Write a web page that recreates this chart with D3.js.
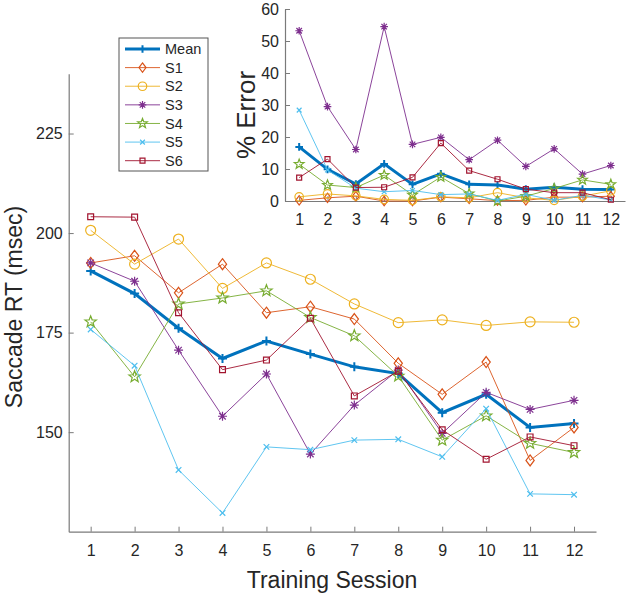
<!DOCTYPE html>
<html>
<head>
<meta charset="utf-8">
<script src="https://cdn.jsdelivr.net/npm/d3@7"></script>
<style>
  body { margin: 0; background: #fff; }
  svg { display: block; font-family: "Liberation Sans", Arial, sans-serif; }
</style>
</head>
<body>
<svg id="chart" width="626" height="599"></svg>
<script>
// Data
const sessions = [1, 2, 3, 4, 5, 6, 7, 8, 9, 10, 11, 12];
const seriesNames = ["Mean", "S1", "S2", "S3", "S4", "S5", "S6"];

// Saccade RT (msec)
const rtMean = [190.5, 184.8, 176.1, 168.5, 172.9, 169.6, 166.4, 164.7, 154.9, 159.5, 151.2, 152.2];
const rtS1 = [192.5, 194.3, 185.0, 192.2, 180.0, 181.5, 178.4, 167.3, 159.5, 167.6, 142.9, 151.2];
const rtS2 = [200.7, 192.2, 198.5, 186.1, 192.5, 188.4, 182.2, 177.5, 178.2, 176.8, 177.7, 177.6];
const rtS3 = [192.5, 187.9, 170.6, 154.0, 164.6, 144.5, 156.8, 165.6, 149.7, 160.0, 155.7, 158.0];
const rtS4 = [177.7, 163.9, 182.2, 183.7, 185.5, 178.8, 174.2, 164.1, 148.0, 154.1, 147.2, 144.9];
const rtS5 = [175.8, 166.7, 140.5, 129.7, 146.3, 145.6, 148.0, 148.2, 143.8, 155.9, 134.5, 134.3];
const rtS6 = [204.1, 204.0, 180.0, 165.7, 168.1, 178.6, 159.1, 165.3, 150.6, 143.2, 148.8, 146.6];

// % Error
const errMean = [16.9, 9.9, 5.3, 11.6, 5.2, 8.5, 5.2, 5.0, 3.7, 4.3, 3.7, 3.6];
const errS1 = [0.2, 1.0, 1.5, 0, 0, 1.2, 0.7, 0.1, 0.2, 1.2, 1.2, 1.5];
const errS2 = [1.3, 2.2, 1.6, 0.5, 0.2, 1.3, 1.0, 2.6, 1.0, 0.2, 1.5, 3.2];
const errS3 = [53.2, 29.5, 16.1, 54.5, 17.7, 19.9, 12.9, 19.0, 10.8, 16.3, 8.4, 11.1];
const errS4 = [11.5, 5.0, 4.2, 8.1, 1.9, 7.5, 2.3, 0, 1.5, 3.9, 6.6, 5.2];
const errS5 = [28.4, 9.7, 4.0, 2.9, 3.3, 2.0, 2.2, 0.2, 2.1, 0.2, 1.8, 0.3];
const errS6 = [7.3, 13.1, 4.2, 4.3, 7.4, 18.1, 9.5, 6.8, 3.7, 2.6, 2.6, 0.4];

const rtTicks = [150, 175, 200, 225];
const errTicks = [0, 10, 20, 30, 40, 50, 60];

// Styling per series (MATLAB default palette)
const colors = ["#0072BD", "#D95319", "#EDB120", "#7E2F8E", "#77AC30", "#4DBEEE", "#A2142F"];
const markers = ["plus", "diamond", "circle", "asterisk", "star", "cross", "square"];
const widths = [3, 0.9, 0.9, 0.9, 0.9, 0.9, 0.9];

const rtSeries = [rtMean, rtS1, rtS2, rtS3, rtS4, rtS5, rtS6];
const errSeries = [errMean, errS1, errS2, errS3, errS4, errS5, errS6];

const svg = d3.select("#chart");
const axisColor = "#7a7a7a";
const textColor = "#262626";

// Marker path generator, s = nominal size in px
function markerPath(type, s) {
    const h = s / 2;
    switch (type) {
        case "plus": return `M${-h},0H${h}M0,${-h}V${h}`;
        case "cross": { const a = h * 0.8; return `M${-a},${-a}L${a},${a}M${-a},${a}L${a},${-a}`; }
        case "asterisk": { const a = h * 0.72; return `M${-h},0H${h}M0,${-h}V${h}M${-a},${-a}L${a},${a}M${-a},${a}L${a},${-a}`; }
        case "diamond": return `M0,${-h}L${h * 0.75},0L0,${h}L${-h * 0.75},0Z`;
        case "square": { const a = h * 0.65; return `M${-a},${-a}H${a}V${a}H${-a}Z`; }
        case "circle": return d3.arc()({innerRadius: 0, outerRadius: h, startAngle: 0, endAngle: 2 * Math.PI});
        case "star": {
            const pts = [];
            for (let i = 0; i < 10; i++) {
                const r = i % 2 === 0 ? h : h * 0.42;
                const ang = -Math.PI / 2 + i * Math.PI / 5;
                pts.push([r * Math.cos(ang), r * Math.sin(ang)]);
            }
            return "M" + pts.map(p => p.join(",")).join("L") + "Z";
        }
    }
}
const markerSize = {plus: 9, cross: 7, asterisk: 9, diamond: 11, square: 9, circle: 10, star: 12};

// Draw a panel: axes + lines + markers
function drawPanel(cfg) {
    const g = svg.append("g");
    const x = d3.scaleLinear().domain([0.5, 12.5]).range([cfg.left, cfg.right]);
    const y = d3.scaleLinear().domain(cfg.yDomain).range([cfg.bottom, cfg.top]);

    // axes
    const xAxis = g.append("g").attr("transform", `translate(0,${cfg.bottom})`)
        .call(d3.axisBottom(x).tickValues(sessions).tickSize(-5).tickSizeOuter(0).tickPadding(10));
    const yAxis = g.append("g").attr("transform", `translate(${cfg.left},0)`)
        .call(d3.axisLeft(y).tickValues(cfg.yTicks).tickSize(-5).tickSizeOuter(0).tickPadding(6));
    [xAxis, yAxis].forEach(a => {
        a.select(".domain").attr("stroke", axisColor).attr("stroke-width", 1.2);
        a.selectAll(".tick line").attr("stroke", axisColor);
        a.selectAll(".tick text").attr("fill", textColor).style("font-size", "16px");
    });
    xAxis.selectAll(".tick text").attr("dy", "0.71em").attr("y", 13);

    const line = d3.line().x((d, i) => x(sessions[i])).y(d => y(d));
    const ms = cfg.markerScale;

    cfg.series.forEach((vals, k) => {
        const sg = g.append("g");
        sg.append("path").datum(vals).attr("d", line)
            .attr("fill", "none").attr("stroke", colors[k]).attr("stroke-width", widths[k]);
        sg.selectAll("path.mk").data(vals).join("path").attr("class", "mk")
            .attr("transform", (d, i) => `translate(${x(sessions[i])},${y(d)})`)
            .attr("d", markerPath(markers[k], markerSize[markers[k]] * ms))
            .attr("fill", "none").attr("stroke", colors[k])
            .attr("stroke-width", k === 0 ? 2 : 1.2);
    });
    return {x, y};
}

// Main panel
drawPanel({
    left: 68.7, right: 596, top: 73.8, bottom: 531.7,
    yDomain: [125, 240], yTicks: rtTicks, series: rtSeries, markerScale: 1
});

// Inset panel
drawPanel({
    left: 285, right: 625, top: 9, bottom: 201,
    yDomain: [0, 60], yTicks: errTicks, series: errSeries, markerScale: 0.85
});

// Axis titles
svg.append("text").attr("x", 332).attr("y", 588).attr("text-anchor", "middle")
    .attr("fill", textColor).style("font-size", "23px").text("Training Session");
svg.append("text").attr("transform", "translate(22,307) rotate(-90)").attr("text-anchor", "middle")
    .attr("fill", textColor).style("font-size", "23px").text("Saccade RT (msec)");
svg.append("text").attr("transform", "translate(255,115) rotate(-90)").attr("text-anchor", "middle")
    .attr("fill", textColor).style("font-size", "26px").text("% Error");

// Legend
const legend = svg.append("g");
legend.append("rect").attr("x", 119).attr("y", 38).attr("width", 89).attr("height", 133)
    .attr("fill", "#fff").attr("stroke", "#555").attr("stroke-width", 1);
const legendY = d3.scalePoint().domain(seriesNames).range([49, 160.7]);
seriesNames.forEach((name, k) => {
    const yy = legendY(name);
    legend.append("line").attr("x1", 125).attr("x2", 160).attr("y1", yy).attr("y2", yy)
        .attr("stroke", colors[k]).attr("stroke-width", widths[k]);
    legend.append("path").attr("transform", `translate(142.5,${yy})`)
        .attr("d", markerPath(markers[k], markerSize[markers[k]] * 0.85))
        .attr("fill", "none").attr("stroke", colors[k]).attr("stroke-width", k === 0 ? 2 : 1.2);
    legend.append("text").attr("x", 165).attr("y", yy).attr("dy", "0.36em")
        .attr("fill", textColor).style("font-size", "14.5px").text(name);
});
</script>
</body>
</html>
